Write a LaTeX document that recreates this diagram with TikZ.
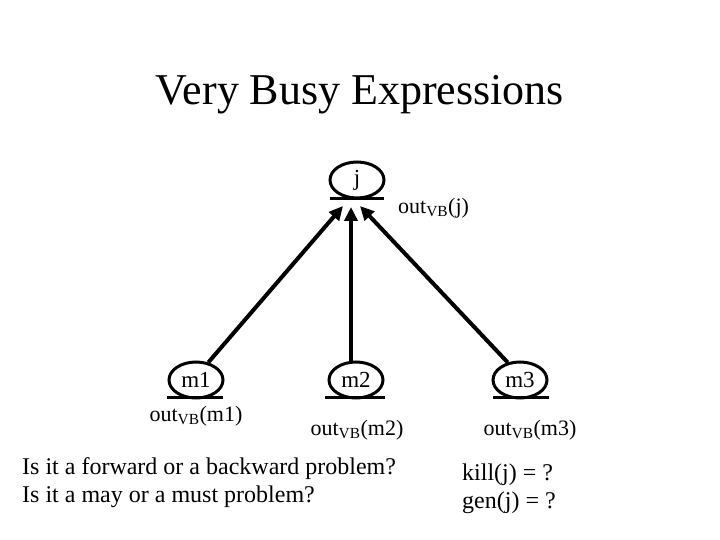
\documentclass[tikz,border=0pt]{standalone}
\usepackage{fontspec}
\setmainfont{Liberation Serif}
\usetikzlibrary{arrows.meta,shapes.geometric,positioning}

\begin{document}
\begin{tikzpicture}[x=1pt,y=-1pt,
  blk/.style={ellipse,draw,line width=3pt,minimum width=54pt,minimum height=36pt,
              inner sep=0pt,font=\fontsize{23}{25}\selectfont},
  lbl/.style={font=\fontsize{22}{24}\selectfont,inner sep=0pt},
  qst/.style={font=\fontsize{24}{26}\selectfont,inner sep=0pt,anchor=west},
  arr/.style={-{Triangle[length=14pt,width=13pt]},line width=4pt},
  bar/.style={line width=3pt}
]
  \useasboundingbox (0,0) rectangle (720,540);

  \node[font=\fontsize{44}{48}\selectfont] (title) at (360,95) {Very Busy Expressions};

  % ---------------- blocks ----------------
  \node[blk] (j)  at (357,180) {j};
  \node[blk] (m1) at (196,380) {m1};
  \node[blk] (m2) at (356,380) {m2};
  \node[blk] (m3) at (520,380) {m3};

  \draw[bar] ([xshift=-27pt,yshift=1pt]j.south)  -- ([xshift=27pt,yshift=1pt]j.south);
  \draw[bar] ([xshift=-29pt,yshift=2pt]m1.south) -- ([xshift=27pt,yshift=2pt]m1.south);
  \draw[bar] ([xshift=-31pt,yshift=2pt]m2.south) -- ([xshift=29pt,yshift=2pt]m2.south);
  \draw[bar] ([xshift=-27pt,yshift=2pt]m3.south) -- ([xshift=29pt,yshift=2pt]m3.south);

  \node[lbl,anchor=west] (oj)  at (398,208) {out\textsubscript{VB}(j)};
  \node[lbl] (om1) at (196,416) {out\textsubscript{VB}(m1)};
  \node[lbl] (om2) at (357,430) {out\textsubscript{VB}(m2)};
  \node[lbl] (om3) at (530,430) {out\textsubscript{VB}(m3)};

  % ---------------- arrows into j ----------------
  \coordinate (jl) at (343,206);
  \coordinate (jm) at (351,207);
  \coordinate (jr) at (360,206);
  \draw[arr] (m1.55)  -- (jl);
  \draw[arr] (m2.north -| jm) -- (jm);
  \draw[arr] (m3.125) -- (jr);

  % ---------------- questions ----------------
  \node[qst] (q1) at (22,469) {Is it a forward or a backward problem?};
  \node[qst] (q2) at (22,497) {Is it a may or a must problem?};
  \node[qst] (q3) at (462,475) {kill(j) = ?};
  \node[qst] (q4) at (462,503) {gen(j) = ?};
\end{tikzpicture}
\end{document}
